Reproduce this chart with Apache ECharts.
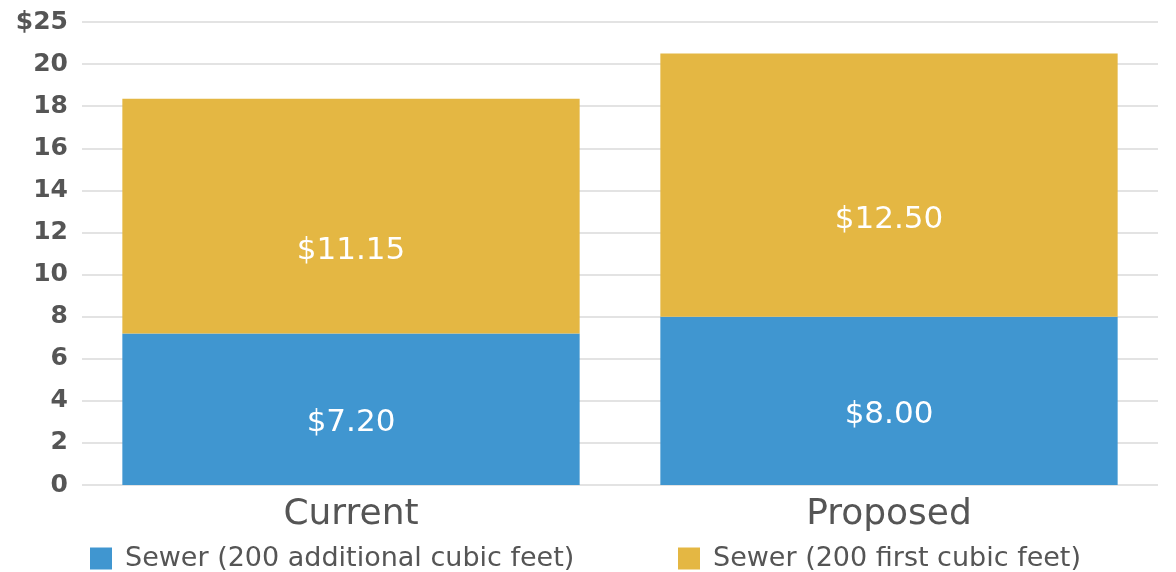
<!DOCTYPE html>
<html>
<head>
<meta charset="utf-8">
<script src="https://cdn.jsdelivr.net/npm/echarts@6/dist/echarts.min.js"></script>
<style>
  html, body { margin: 0; padding: 0; background: #fff; }
  #main { width: 1176px; height: 572px; }
</style>
</head>
<body>
<div id="main"></div>
<script>
var categories = ['Current', 'Proposed'];
var additional = [7.20, 8.00];
var first = [11.15, 12.50];
var seriesNames = ['Sewer (200 additional cubic feet)', 'Sewer (200 first cubic feet)'];

var font = 'DejaVu Sans';
var myChart = echarts.init(document.getElementById('main'));

// one legend per item so each sits where the original puts it
function legendAt(name, left) {
    return {
        data: [name],
        left: left,
        top: 540,
        itemWidth: 22,
        itemHeight: 22,
        itemGap: 0,
        icon: 'rect',
        selectedMode: false,
        textStyle: { fontSize: 27, color: '#555', fontFamily: font, padding: [0, 0, 0, 8] }
    };
}

var option = {
    animation: false,
    textStyle: { fontFamily: font },
    grid: { left: 82, right: 18, top: 22, bottom: 87 },
    legend: [legendAt(seriesNames[0], 85), legendAt(seriesNames[1], 673)],
    xAxis: {
        type: 'category',
        data: categories,
        axisLine: { show: false },
        axisTick: { show: false },
        axisLabel: { fontSize: 36, color: '#555', margin: 12, fontFamily: font }
    },
    yAxis: {
        type: 'value',
        min: 0,
        max: 22,
        interval: 2,
        axisLine: { show: false },
        axisTick: { show: false },
        splitLine: { lineStyle: { color: '#e3e3e3', width: 2 } },
        axisLabel: {
            fontSize: 25,
            fontWeight: 'bold',
            color: '#555',
            margin: 14,
            fontFamily: font,
            formatter: function (v) {
                if (v === 22) return '$25';
                return v;
            }
        }
    },
    series: [
        {
            name: seriesNames[0],
            type: 'bar',
            stack: 'total',
            barWidth: '85%',
            data: additional,
            itemStyle: { color: '#4096d0' },
            label: {
                show: true,
                position: 'inside',
                offset: [0, 14],
                color: '#fff',
                fontSize: 31,
                fontFamily: font,
                formatter: function (p) { return '$' + p.value.toFixed(2); }
            }
        },
        {
            name: seriesNames[1],
            type: 'bar',
            stack: 'total',
            data: first,
            itemStyle: { color: '#e4b743' },
            label: {
                show: true,
                position: 'inside',
                offset: [0, 35],
                color: '#fff',
                fontSize: 31,
                fontFamily: font,
                formatter: function (p) { return '$' + p.value.toFixed(2); }
            }
        }
    ]
};

myChart.setOption(option);
window.addEventListener('resize', function () {
    myChart.resize();
});
</script>
</body>
</html>
